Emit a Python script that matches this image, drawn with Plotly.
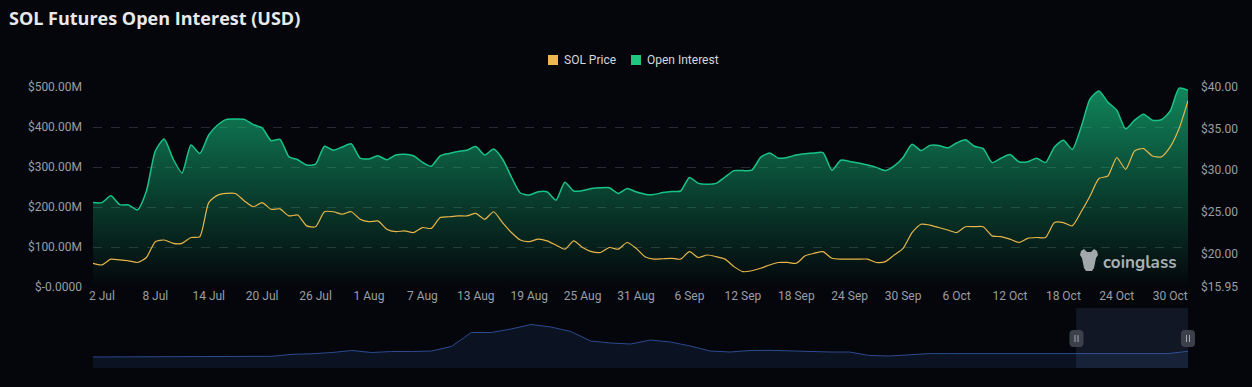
import pandas as pd
import plotly.graph_objects as go

# ---------------- data ----------------
dates = pd.date_range("2023-07-01", "2023-11-01", freq="D")

# Open interest, millions of USD (daily, 1 Jul .. 1 Nov)
oi_musd = [
    211, 211, 228, 206, 205, 193, 240, 340, 370, 320,
    285, 355, 334, 380, 405, 419, 420, 419, 406, 398,
    366, 369, 326, 318, 305, 307, 352, 342, 350, 358,
    322, 320, 328, 318, 330, 332, 328, 312, 302, 328,
    334, 339, 342, 351, 330, 345, 320, 275, 235, 230,
    238, 238, 217, 262, 240, 241, 246, 248, 248, 234,
    246, 238, 232, 231, 236, 239, 240, 274, 259, 257,
    259, 275, 291, 291, 292, 324, 335, 322, 324, 330,
    333, 335, 336, 292, 317, 314, 310, 305, 299, 291,
    303, 324, 357, 341, 354, 354, 348, 360, 368, 352,
    346, 311, 322, 331, 313, 313, 322, 311, 350, 367,
    344, 400, 470, 490, 462, 442, 395, 417, 432, 417,
    418, 440, 497, 492,
]

# SOL price, USD
sol_price = [
    18.8, 18.6, 19.3, 19.2, 19.1, 18.9, 19.5, 21.4, 21.6, 21.2,
    21.2, 21.9, 22.0, 26.1, 27.0, 27.2, 27.2, 26.3, 25.6, 26.1,
    25.3, 25.35, 24.5, 24.6, 23.3, 23.2, 25.0, 25.0, 24.7, 25.0,
    24.1, 23.8, 23.9, 22.9, 22.6, 22.7, 22.5, 23.1, 23.0, 24.3,
    24.4, 24.5, 24.5, 24.8, 24.1, 25.0, 23.7, 22.5, 21.6, 21.4,
    21.7, 21.5, 21.0, 20.5, 21.5, 20.7, 20.2, 20.1, 20.7, 20.5,
    21.3, 20.6, 19.6, 19.3, 19.35, 19.4, 19.3, 20.2, 19.5, 19.8,
    19.6, 19.3, 18.4, 17.8, 17.9, 18.2, 18.6, 18.9, 18.9, 18.8,
    19.7, 20.0, 20.2, 19.4, 19.3, 19.3, 19.3, 19.3, 18.9, 19.0,
    19.8, 20.6, 22.5, 23.5, 23.4, 23.1, 22.8, 22.5, 23.2, 23.2,
    23.2, 22.1, 22.0, 21.7, 21.3, 21.8, 21.9, 21.9, 23.7, 23.7,
    23.3, 25.0, 26.9, 29.0, 29.3, 31.5, 30.1, 32.3, 32.6, 31.7,
    31.6, 32.8, 35.0, 38.35,
]

x_tick_dates = pd.date_range("2023-07-02", "2023-10-30", freq="6D")
x_tick_labels = ["2 Jul", "8 Jul", "14 Jul", "20 Jul", "26 Jul", "1 Aug", "7 Aug",
                 "13 Aug", "19 Aug", "25 Aug", "31 Aug", "6 Sep", "12 Sep", "18 Sep",
                 "24 Sep", "30 Sep", "6 Oct", "12 Oct", "18 Oct", "24 Oct", "30 Oct"]

oi_tick_vals = [0, 100, 200, 300, 400, 500]
oi_tick_labels = ["$-0.0000", "$100.00M", "$200.00M", "$300.00M", "$400.00M", "$500.00M"]

price_tick_vals = [15.95, 20, 25, 30, 35, 40]
price_tick_labels = ["$15.95", "$20.00", "$25.00", "$30.00", "$35.00", "$40.00"]

legend_names = ["SOL Price", "Open Interest"]
legend_colors = ["#ebb84e", "#1ec67f"]

# overview (data-zoom) series, relative level
overview_values = [
    11, 11, 11, 11, 11, 11, 11, 11, 11.3, 11.7,
    13.7, 14.2, 15.5, 17.5, 15.5, 16.5, 16.5, 17, 21.5, 35.5,
    35.5, 39, 43.5, 41, 36.5, 27, 25, 24, 28, 26,
    22, 17, 16, 17.5, 17.7, 17, 16, 16, 16, 12.5,
    12, 13.5, 14.4, 14.4, 14.4, 14.4, 14, 14, 13.7, 13.7,
    14.4, 14.4, 14.4, 14.4, 14.4, 16.7,
]

# ---------------- style ----------------
BG = "#04060b"
GRID = "#262a31"
TICK = "#9a9ea6"
OI_LINE = "#19c387"
PRICE_LINE = "#e6b54a"
W, H = 1252, 387
L, R = 93, 64


def py(px):
    return 1 - px / H


def pxx(px):
    return (px - L) / (W - L - R)


def pix_path(points):
    """Closed SVG path (paper coords) from a list of pixel points."""
    parts = []
    for i, (x, y) in enumerate(points):
        parts.append(("M" if i == 0 else "L") + f"{pxx(x):.5f},{py(y):.5f}")
    return " ".join(parts) + " Z"


def rounded_rect(x0, y0, x1, y1, r):
    X = lambda v: f"{pxx(v):.5f}"
    Y = lambda v: f"{py(v):.5f}"
    return (f"M{X(x0 + r)},{Y(y0)} L{X(x1 - r)},{Y(y0)} Q{X(x1)},{Y(y0)} {X(x1)},{Y(y0 + r)} "
            f"L{X(x1)},{Y(y1 - r)} Q{X(x1)},{Y(y1)} {X(x1 - r)},{Y(y1)} "
            f"L{X(x0 + r)},{Y(y1)} Q{X(x0)},{Y(y1)} {X(x0)},{Y(y1 - r)} "
            f"L{X(x0)},{Y(y0 + r)} Q{X(x0)},{Y(y0)} {X(x0 + r)},{Y(y0)} Z")


fig = go.Figure()

fig.add_trace(go.Scatter(
    x=dates, y=oi_musd, name=legend_names[1], mode="lines",
    line=dict(color=OI_LINE, width=1.5, shape="spline", smoothing=0.6),
    fill="tozeroy",
    fillgradient=dict(type="vertical",
                      colorscale=[[0, "rgba(22,199,132,0.0)"],
                                  [0.5, "rgba(22,199,132,0.32)"],
                                  [1, "rgba(22,199,132,0.66)"]],
                      start=0, stop=max(oi_musd)),
    showlegend=False, hoverinfo="skip", xaxis="x", yaxis="y",
))
fig.add_trace(go.Scatter(
    x=dates, y=sol_price, name=legend_names[0], mode="lines",
    line=dict(color=PRICE_LINE, width=1.2, shape="spline", smoothing=0.6),
    showlegend=False, hoverinfo="skip", xaxis="x", yaxis="y2",
))

# overview
fig.add_trace(go.Scatter(
    x=list(range(len(overview_values))), y=overview_values, mode="lines",
    line=dict(color="#2c4a8e", width=1), fill="tozeroy", fillcolor="#0b1222",
    showlegend=False, hoverinfo="skip", xaxis="x2", yaxis="y3",
))

n_ov = len(overview_values) - 1
sel_start = n_ov * (1076 - 92) / (1188 - 92)

shapes = [
    dict(type="rect", xref="x2", yref="y3", x0=sel_start, x1=n_ov, y0=0, y1=60,
         fillcolor="rgba(90,110,170,0.16)", line=dict(width=0), layer="above"),
    # watermark logo (cow head silhouette)
    dict(type="path", xref="paper", yref="paper",
         path=pix_path([(1081, 251), (1084, 249), (1087, 252), (1091, 252), (1094, 249),
                        (1097, 251), (1098, 255), (1096, 258), (1095, 263), (1094, 268),
                        (1092, 271), (1086, 271), (1084, 268), (1083, 263), (1082, 258),
                        (1080, 255)]),
         fillcolor="rgba(190,194,197,0.85)", line=dict(width=0)),
]
annotations = [
    dict(text="<b>SOL Futures Open Interest (USD)</b>", xref="paper", yref="paper",
         x=pxx(7), y=py(18), xanchor="left", yanchor="middle", showarrow=False,
         font=dict(family="Open Sans", size=18, color="#e8e9eb")),
    dict(text="<b>coinglass</b>", xref="paper", yref="paper",
         x=pxx(1179), y=py(262), xanchor="right", yanchor="middle", showarrow=False,
         font=dict(family="Nunito, Lato", size=17, color="rgba(200,205,208,0.85)")),
]

# legend: square swatches + labels
legend_left = [548, 631]
for name, col, lx in zip(legend_names, legend_colors, legend_left):
    shapes.append(dict(type="rect", xref="paper", yref="paper",
                       x0=pxx(lx), x1=pxx(lx + 10), y0=py(65), y1=py(55),
                       fillcolor=col, line=dict(width=0)))
    annotations.append(dict(text=name, xref="paper", yref="paper", x=pxx(lx + 14), y=py(60),
                            xanchor="left", yanchor="middle", showarrow=False,
                            font=dict(family="Roboto", size=12, color="#d6d8dc")))

# data-zoom handles
for hx in (1076.5, 1188):
    shapes.append(dict(type="path", xref="paper", yref="paper",
                       path=rounded_rect(hx - 7, 330, hx + 7, 347, 4),
                       fillcolor="#3b404b", line=dict(width=0), layer="above"))
    for dx in (-1.5, 1.5):
        shapes.append(dict(type="line", xref="paper", yref="paper",
                           x0=pxx(hx + dx), x1=pxx(hx + dx), y0=py(335), y1=py(342),
                           line=dict(color="#a2a7b2", width=1), layer="above"))

fig.update_layout(
    width=W, height=H,
    margin=dict(l=L, r=R, t=0, b=0, autoexpand=False),
    paper_bgcolor=BG, plot_bgcolor=BG,
    font=dict(family="Roboto", size=12, color=TICK),
    showlegend=False,
    xaxis=dict(domain=[0, 1], range=[dates[0], dates[-1]], tickvals=x_tick_dates,
               ticktext=x_tick_labels, showgrid=False, zeroline=False, showline=False,
               ticks="", tickfont=dict(size=12, color=TICK), anchor="y", automargin=False),
    yaxis=dict(domain=[py(287), py(87)], range=[0, 500], tickvals=oi_tick_vals,
               ticktext=oi_tick_labels, showgrid=True, gridcolor=GRID, griddash="dash",
               gridwidth=1, zeroline=False, showline=False, ticks="", automargin=False,
               ticklabelstandoff=10, tickfont=dict(size=12, color=TICK)),
    yaxis2=dict(overlaying="y", side="right", range=[15.95, 40], tickvals=price_tick_vals,
                ticktext=price_tick_labels, showgrid=False, zeroline=False, showline=False,
                ticks="", ticklabelstandoff=12, automargin=False,
                tickfont=dict(size=12, color=TICK)),
    xaxis2=dict(domain=[0, 1], range=[0, n_ov], visible=False, anchor="y3"),
    yaxis3=dict(domain=[py(368), py(308)], range=[0, 60], visible=False, anchor="x2"),
    shapes=shapes,
    annotations=annotations,
    hovermode=False,
)

fig.write_html("out.html", config={"displayModeBar": False},
               post_script="document.body.style.margin='0px';document.body.style.overflow='hidden';")
